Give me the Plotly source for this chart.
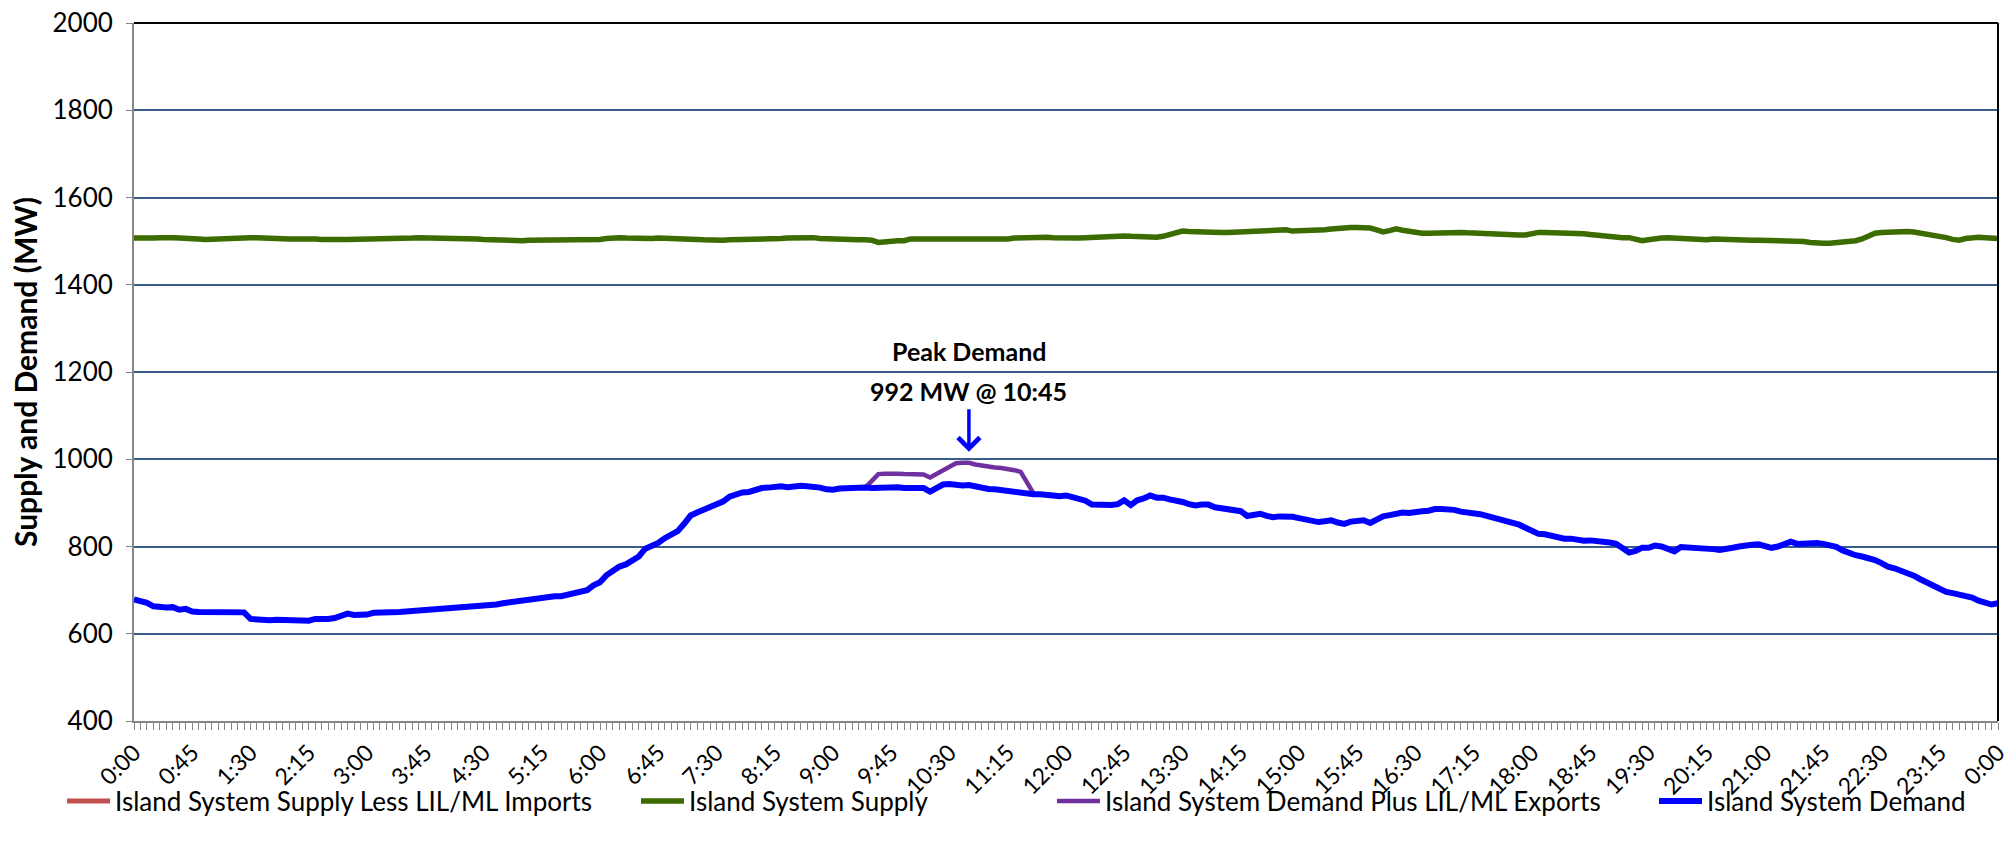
import plotly.graph_objects as go

tick_labels = ["0:00", "0:45", "1:30", "2:15", "3:00", "3:45", "4:30", "5:15", "6:00",
               "6:45", "7:30", "8:15", "9:00", "9:45", "10:30", "11:15", "12:00",
               "12:45", "13:30", "14:15", "15:00", "15:45", "16:30", "17:15", "18:00",
               "18:45", "19:30", "20:15", "21:00", "21:45", "22:30", "23:15", "0:00"]

# 5-minute values, 0:00 .. 24:00 (289 points)
island_demand = [
    679, 675, 671, 663, 660, 660, 661, 655, 657, 651,
    650, 650, 649, 648, 647, 650, 649, 649, 634, 632,
    631, 631, 632, 632, 632, 632, 631, 630, 634, 633,
    634, 636, 641, 646, 643, 643, 644, 648, 648, 647,
    647, 650, 651, 652, 653, 655, 655, 656, 657, 658,
    661, 662, 662, 662, 664, 665, 667, 670, 672, 674,
    676, 679, 682, 684, 685, 686, 686, 689, 693, 696,
    700, 711, 718, 734, 745, 754, 759, 768, 777, 795,
    802, 808, 819, 826, 835, 852, 871, 878, 885, 892,
    896, 903, 914, 920, 924, 925, 930, 934, 935, 937,
    938, 936, 938, 939, 938, 938, 935, 931, 930, 933,
    934, 934, 935, 935, 934, 935, 935, 935, 936, 934,
    933, 934, 934, 926, 936, 942, 943, 941, 940, 941,
    937, 934, 932, 931, 929, 927, 925, 922, 920, 920,
    920, 920, 917, 915, 917, 913, 910, 905, 896, 895,
    894, 895, 897, 906, 895, 906, 910, 917, 912, 912,
    908, 906, 902, 897, 894, 896, 896, 890, 888, 886,
    884, 881, 870, 873, 875, 870, 867, 869, 869, 868,
    865, 862, 858, 856, 858, 860, 855, 852, 857, 858,
    860, 854, 863, 869, 872, 875, 878, 877, 880, 881,
    882, 886, 886, 886, 884, 880, 879, 875, 874, 870,
    866, 863, 858, 856, 850, 843, 834, 829, 828, 825,
    820, 818, 818, 815, 813, 814, 813, 811, 809, 806,
    795, 786, 790, 797, 797, 802, 800, 795, 789, 799,
    798, 797, 799, 797, 794, 792, 793, 797, 800, 803,
    804, 805, 801, 797, 800, 806, 811, 806, 807, 809,
    808, 806, 803, 799, 791, 784, 780, 777, 774, 769,
    762, 754, 750, 745, 738, 733, 725, 718, 710, 702,
    696, 693, 690, 686, 683, 676, 670, 667, 670,
]

island_supply = [
    1507, 1506, 1506, 1507, 1508, 1509, 1508, 1507, 1507, 1508, 1505,
    1504, 1505, 1506, 1506, 1507, 1508, 1508, 1508, 1508, 1507,
    1506, 1504, 1504, 1505, 1505, 1506, 1506, 1505, 1504, 1503,
    1503, 1504, 1504, 1504, 1504, 1504, 1504, 1504, 1505, 1505,
    1506, 1507, 1507, 1508, 1508, 1507, 1507, 1507, 1507, 1507,
    1507, 1506, 1505, 1504, 1503, 1503, 1503, 1502, 1501, 1501,
    1502, 1502, 1502, 1502, 1502, 1502, 1502, 1502, 1502, 1502,
    1503, 1504, 1506, 1508, 1508, 1507, 1506, 1506, 1506, 1506,
    1507, 1507, 1506, 1505, 1506, 1505, 1504, 1503, 1502, 1501,
    1502, 1503, 1503, 1504, 1504, 1504, 1504, 1505, 1505, 1506,
    1507, 1508, 1508, 1509, 1508, 1506, 1505, 1504, 1504, 1504,
    1503, 1503, 1503, 1502, 1497, 1499, 1501, 1501, 1501, 1505,
    1505, 1505, 1504, 1504, 1503, 1503, 1503, 1503, 1502, 1502,
    1502, 1502, 1502, 1503, 1505, 1507, 1508, 1508, 1509, 1509,
    1509, 1508, 1507, 1506, 1506, 1507, 1508, 1509, 1510, 1511,
    1511, 1511, 1512, 1511, 1510, 1510, 1509, 1509, 1511, 1515,
    1520, 1523, 1522, 1521, 1521, 1520, 1520, 1520, 1520, 1521,
    1521, 1522, 1522, 1523, 1524, 1526, 1528, 1526, 1523, 1523,
    1523, 1524, 1525, 1526, 1528, 1530, 1531, 1531, 1531, 1531,
    1530, 1526, 1521, 1524, 1528, 1525, 1522, 1521, 1518, 1518,
    1519, 1520, 1521, 1521, 1520, 1519, 1518, 1517, 1516, 1516,
    1516, 1515, 1515, 1514, 1514, 1518, 1520, 1520, 1520, 1520,
    1520, 1520, 1519, 1517, 1515, 1513, 1511, 1509, 1508, 1508,
    1508, 1505, 1501, 1503, 1506, 1507, 1508, 1507, 1505, 1504,
    1503, 1501, 1503, 1505, 1504, 1504, 1503, 1503, 1503, 1502,
    1502, 1502, 1502, 1502, 1502, 1502, 1501, 1499, 1497, 1495,
    1495, 1495, 1496, 1497, 1499, 1501, 1505, 1511, 1518, 1520,
    1521, 1522, 1523, 1522, 1521, 1519, 1517, 1515, 1512, 1508,
    1504, 1502, 1506, 1509, 1509, 1508, 1507, 1506,
]

# demand plus LIL/ML exports: differs from demand only from 9:25 to 11:35
export_window = [935, 951, 966, 967, 968, 967, 966, 966, 965, 965,
                 958, 966, 975, 984, 991, 992, 992, 988, 985, 983,
                 981, 980, 978, 975, 971, 948, 921]
island_demand_plus_exports = [None] * 113 + export_window + [None] * 149

# supply less LIL/ML imports: no visible values on this chart
island_supply_less_imports = [None] * len(island_demand)

peak_index = 129
peak_value = 992

x_idx = list(range(len(island_demand)))
tickvals = [9 * k for k in range(len(tick_labels))]

FONT = "Lato"
AXIS_GREY = "#868686"
GRID = "#385D8A"

fig = go.Figure()
fig.add_trace(go.Scatter(x=x_idx, y=island_supply_less_imports, mode="lines",
                         name="Island System Supply Less LIL/ML Imports",
                         line=dict(color="#C0504D", width=5), legend="legend"))
fig.add_trace(go.Scatter(x=x_idx, y=island_supply, mode="lines",
                         name="Island System Supply",
                         line=dict(color="#3C6B00", width=5.5), legend="legend2"))
fig.add_trace(go.Scatter(x=x_idx, y=island_demand_plus_exports, mode="lines",
                         name="Island System Demand Plus LIL/ML Exports",
                         line=dict(color="#7030A0", width=4.5), legend="legend3"))
fig.add_trace(go.Scatter(x=x_idx, y=island_demand, mode="lines",
                         name="Island System Demand",
                         line=dict(color="#0000FF", width=6), legend="legend4"))

ML, MR, MT, MB = 134, 11, 23, 128
PW = 2009 - ML - MR
PH = 849 - MT - MB

def px_x(X):
    return (X - ML) / PW

leg_y = (849 - MB - 801) / PH
leg_common = dict(orientation="h", yanchor="middle", y=leg_y, xanchor="left",
                  font=dict(family=FONT, size=26, color="black"),
                  bgcolor="rgba(0,0,0,0)", itemwidth=43, borderwidth=0)

fig.update_layout(
    width=2009, height=849,
    margin=dict(l=ML, r=MR, t=MT, b=MB, autoexpand=False),
    paper_bgcolor="white", plot_bgcolor="white",
    font=dict(family=FONT, color="black"),
    showlegend=True,
    legend=dict(x=px_x(62), **leg_common),
    legend2=dict(x=px_x(636), **leg_common),
    legend3=dict(x=px_x(1052), **leg_common),
    legend4=dict(x=px_x(1654), **leg_common),
    xaxis=dict(
        range=[0, len(island_demand) - 1],
        tickmode="array", tickvals=tickvals, ticktext=tick_labels,
        tickangle=-45, tickfont=dict(family=FONT, size=23, color="black"),
        ticklabeloverflow="allow", automargin=False,
        showgrid=False, zeroline=False,
        showline=True, linecolor=AXIS_GREY, linewidth=2,
        ticks="outside", ticklen=7, tickwidth=1, tickcolor=AXIS_GREY,
        minor=dict(ticks="outside", ticklen=7, tickwidth=1, tickcolor=AXIS_GREY,
                   tickmode="linear", tick0=0, dtick=1, showgrid=False),
    ),
    yaxis=dict(
        range=[400, 2000], tickmode="linear", tick0=400, dtick=200,
        tickfont=dict(family=FONT, size=26, color="black"),
        showgrid=True, gridcolor=GRID, gridwidth=1.5, zeroline=False,
        showline=True, linecolor=AXIS_GREY, linewidth=2,
        ticks="outside", ticklen=6, tickwidth=1, tickcolor=AXIS_GREY,
        ticklabelstandoff=8, automargin=False,
        title=dict(text="<b>Supply and Demand (MW)</b>",
                   font=dict(family=FONT, size=30, color="black"), standoff=6),
    ),
    shapes=[
        dict(type="line", xref="paper", yref="paper", x0=0, x1=1, y0=1, y1=1,
             line=dict(color="black", width=2), layer="above"),
        dict(type="line", xref="paper", yref="paper", x0=1, x1=1, y0=0, y1=1,
             line=dict(color="black", width=2), layer="above"),
    ],
    annotations=[
        dict(x=peak_index, y=peak_value, xref="x", yref="y", text="",
             showarrow=True, arrowhead=4, arrowsize=1.2, arrowwidth=3.5,
             arrowcolor="#0000FF", ax=0, ay=-55, standoff=11),
        dict(x=peak_index, y=peak_value, xref="x", yref="y",
             text="<b>Peak Demand</b>", showarrow=False, yanchor="middle",
             yshift=112, font=dict(family=FONT, size=25, color="black")),
        dict(x=peak_index, y=peak_value, xref="x", yref="y",
             text="<b>%d MW @ %s</b>" % (peak_value, "10:45"), showarrow=False,
             yanchor="middle", yshift=72, font=dict(family=FONT, size=25, color="black")),
    ],
)

fig.write_html("out.html", config={"displayModeBar": False},
               post_script="document.body.style.margin='0';document.body.style.overflow='hidden';")
